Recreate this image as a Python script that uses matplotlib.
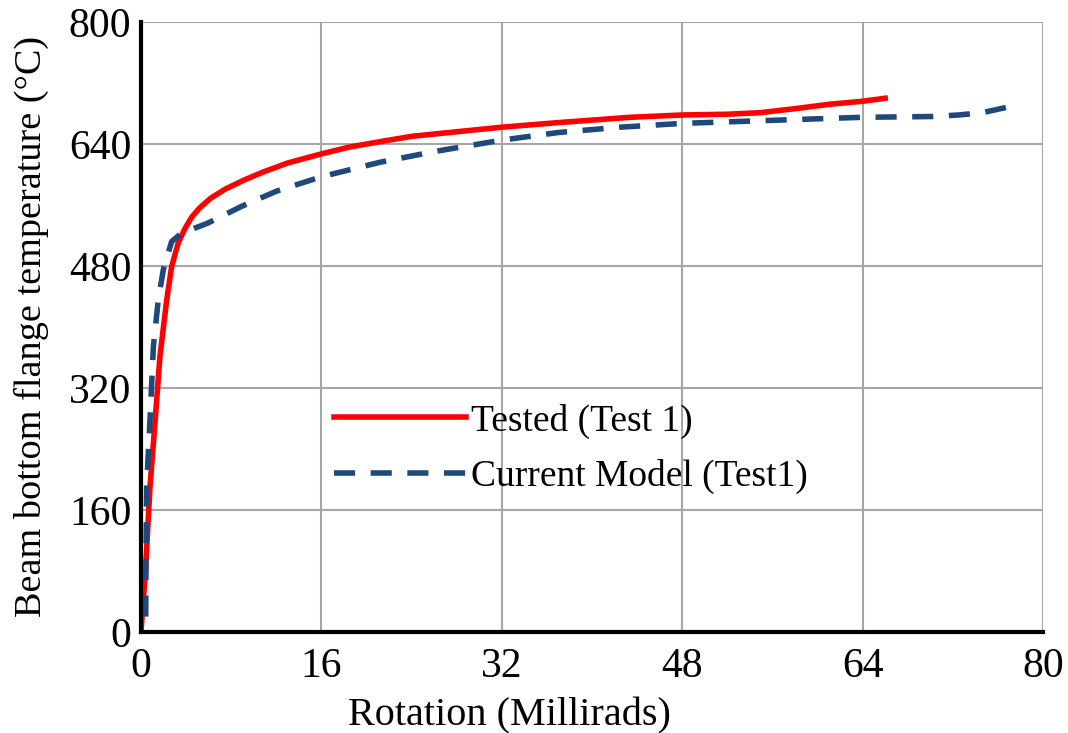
import matplotlib
matplotlib.use("Agg")
import matplotlib.pyplot as plt

# Tested (Test 1)
tested_x = [0.0, 0.4, 0.8, 1.24, 1.68, 2.28, 2.72, 3.3, 3.9, 4.5, 5.2, 6.2, 7.5, 9.2, 10.8, 13.0, 16.0, 18.5, 21.2, 24.0, 28.0, 32.0, 37.0, 43.4, 48.0, 52.0, 54.9, 58.4, 61.0, 64.0, 66.0]
tested_y = [0, 80, 190, 274, 361, 435, 479, 510, 529, 544, 556, 569, 581, 593, 603, 615, 627, 636, 643, 650, 656, 662, 668, 675, 678, 679, 681, 687, 692, 696, 700]

# Current Model (Test1)
model_x = [0.42, 0.45, 0.5, 0.8, 1.1, 1.53, 1.98, 2.72, 3.6, 5.9, 8.9, 12.0, 16.0, 21.2, 26.0, 32.0, 37.0, 42.5, 48.0, 56.0, 64.0, 70.2, 72.5, 74.6, 77.7]
model_y = [20, 100, 190, 278, 374, 435, 475, 512, 523, 536, 558, 578, 597, 616, 630, 645, 655, 662, 667, 671, 675, 676, 678, 681, 691]

x_ticks = [0, 16, 32, 48, 64, 80]
y_ticks = [0, 160, 320, 480, 640, 800]

plt.rcParams['font.family'] = ['Liberation Serif', 'DejaVu Serif']

fig = plt.figure(figsize=(10.68, 7.33), dpi=100)
ax = fig.add_axes([0.132, 0.138, 0.8446, 0.832])

ax.plot(tested_x, tested_y, color='#ff0000', lw=4, label='Tested (Test 1)',
        solid_joinstyle='round')
ax.plot(model_x, model_y, color='#1f497d', lw=4, ls=(0, (3.8, 2.8)), label='Current Model (Test1)')

ax.set_xlim(0, 80)
ax.set_ylim(0, 800)
ax.set_xticks(x_ticks)
ax.set_yticks(y_ticks)
ax.grid(True, color='#a6a6a6', lw=1.5)
ax.set_axisbelow(True)
for s in ['top', 'right']:
    ax.spines[s].set_visible(False)
for s in ['left', 'bottom']:
    ax.spines[s].set_linewidth(3)
    ax.spines[s].set_color('black')
ax.tick_params(axis='x', length=0, labelsize=30, pad=11)
ax.tick_params(axis='y', length=0, labelsize=30, pad=7)

ax.set_xlabel('Rotation (Millirads)', fontsize=29, labelpad=8)
ax.xaxis.set_label_coords(0.409, -0.108)
ax.set_ylabel('Beam bottom flange temperature (°C)', fontsize=27.5, labelpad=14)

ax.legend(loc='center', bbox_to_anchor=(0.477, 0.3), frameon=False, fontsize=27,
          handlelength=3.5, handletextpad=0.15, labelspacing=0.55)

fig.savefig('out.png', dpi=100)
